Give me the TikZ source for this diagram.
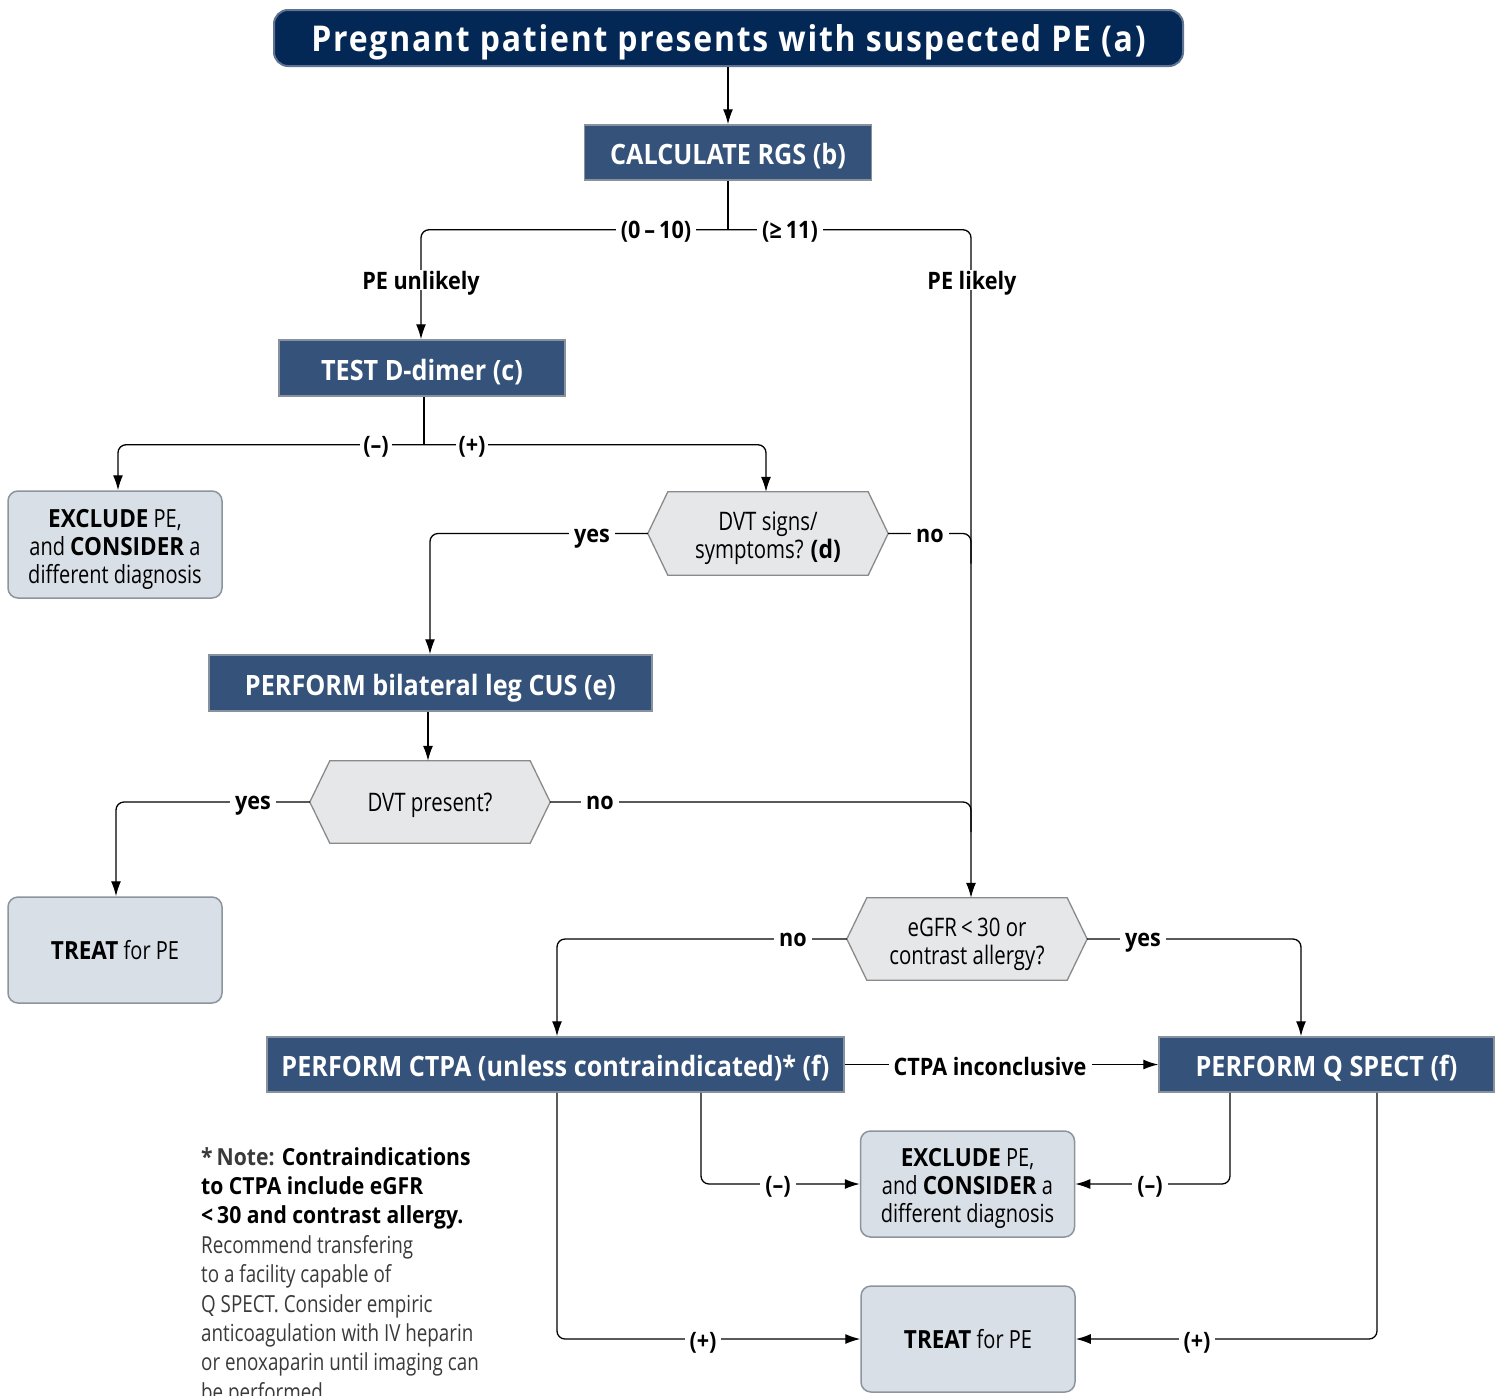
\documentclass[tikz,border=0pt]{standalone}
\usepackage{fontspec}
\setmainfont[FakeStretch=0.8, BoldFeatures={FakeStretch=0.9}]{Open Sans}
\usetikzlibrary{arrows.meta,backgrounds,calc}

\definecolor{navy}{RGB}{4,40,86}
\definecolor{navyedge}{RGB}{96,116,146}
\definecolor{stepblue}{RGB}{52,82,122}
\definecolor{stepedge}{RGB}{136,146,158}
\definecolor{endfill}{RGB}{217,223,231}
\definecolor{endedge}{RGB}{140,148,158}
\definecolor{hexfill}{RGB}{230,231,233}
\definecolor{hexedge}{RGB}{138,138,138}
\definecolor{notegray}{RGB}{58,58,58}

\newcommand\titlefont{\bfseries\addfontfeatures{LetterSpace=5}\fontsize{35.5}{40}\selectfont}
\newcommand\stepfont{\bfseries\fontsize{28}{30}\selectfont}
\newcommand\boxfont{\fontsize{25}{28}\selectfont}
\newcommand\hexfont{\fontsize{25.5}{27.5}\selectfont}
\newcommand\lblfont{\bfseries\fontsize{24}{27}\selectfont}
\newcommand\notefont{\fontsize{23.5}{29.4}\selectfont}
% taller first line, so that a centred multi-line text sits a little lower
\newcommand\firstline[1]{\rule{0pt}{#1}}

% hexagonal decision outline around a (rectangular) decision node
\newcommand\hexoutline[1]{%
  \draw[hexshape] (#1.west) -- ([xshift=20pt]#1.north west) -- ([xshift=-20pt]#1.north east)
    -- (#1.east) -- ([xshift=-20pt]#1.south east) -- ([xshift=20pt]#1.south west) -- cycle;}

\tikzset{
  titlebox/.style={draw=navyedge, line width=2pt, fill=navy, rounded corners=14pt,
    text=white, font=\titlefont, inner sep=0pt, minimum width=909pt, minimum height=56pt,
    text height=27.5pt, text depth=0pt},
  stepbox/.style={draw=stepedge, line width=1.5pt, fill=stepblue, text=white,
    font=\stepfont, inner sep=0pt, minimum height=55pt, text height=24pt, text depth=0pt},
  endbox/.style={draw=endedge, line width=1.5pt, fill=endfill, rounded corners=10pt,
    font=\boxfont, align=center, inner sep=0pt, minimum width=214pt, minimum height=106pt},
  hexbox/.style={font=\hexfont, align=center, inner sep=0pt,
    minimum width=240pt, minimum height=82pt},
  oneline/.style={text height=19.5pt, text depth=0pt},
  hexshape/.style={draw=hexedge, line width=1.3pt, fill=hexfill},
  conn/.style={line width=1.3pt, rounded corners=8pt},
  arr/.style={conn, -{Latex[length=15pt,width=10pt]}},
  lbl/.style={fill=white, font=\lblfont, inner xsep=5pt, inner ysep=1pt, text depth=0pt},
}

\begin{document}
\begin{tikzpicture}[x=1pt,y=-1pt]
\useasboundingbox (0,0) rectangle (1502,1395);

% ---- nodes ----
\node[titlebox] (title) at (728.5,38) {Pregnant patient presents with suspected PE (a)};
\node[stepbox, minimum width=287pt] (calc) at (728,152.5) {CALCULATE RGS (b)};
\node[stepbox, minimum width=286pt, minimum height=56pt] (ddimer) at (422,368) {TEST D-dimer (c)};
\node[endbox, minimum height=107pt] (excl1) at (115,544.5)
  {\firstline{27pt}\textbf{EXCLUDE} PE,\\ and \textbf{CONSIDER} a\\ different diagnosis};
\node[hexbox, minimum height=83pt] (dvt) at (768,533.5) {\firstline{28pt}DVT signs/\\ symptoms? \textbf{(d)}};
\node[stepbox, minimum width=443pt, minimum height=56pt] (cus) at (430.5,683) {PERFORM bilateral leg CUS (e)};
\node[hexbox, oneline] (dvtp) at (430,802) {DVT present?};
\node[endbox, oneline] (treat1) at (115,950) {\textbf{TREAT} for PE};
\node[hexbox] (egfr) at (967,939) {\firstline{29pt}eGFR\,<\,30 or\\ contrast allergy?};
\node[stepbox, minimum width=577pt] (ctpa) at (555.5,1064.5) {PERFORM CTPA (unless contraindicated)* (f)};
\node[stepbox, minimum width=335pt] (qspect) at (1326.5,1064.5) {PERFORM Q SPECT (f)};
\node[endbox] (excl2) at (967.5,1184)
  {\firstline{27pt}\textbf{EXCLUDE} PE,\\ and \textbf{CONSIDER} a\\ different diagnosis};
\node[endbox, oneline] (treat2) at (968,1339) {\textbf{TREAT} for PE};

\node[anchor=north west, align=left, font=\notefont, inner sep=0pt, text=notegray] (note) at (201,1147)
  {{\bfseries *\,Note: \color{black}Contraindications}\\
   {\bfseries\color{black}to CTPA include eGFR}\\
   {\bfseries\color{black}<\,30 and contrast allergy.}\\
   Recommend transfering\\
   to a facility capable of\\
   Q SPECT. Consider empiric\\
   anticoagulation with IV heparin\\
   or enoxaparin until imaging can\\
   be performed.};

\begin{scope}[on background layer]
  \fill[white] (0,0) rectangle (1502,1395);
  \hexoutline{dvt}
  \hexoutline{dvtp}
  \hexoutline{egfr}
\end{scope}

% ---- connectors ----
\coordinate (split) at ($(calc.south)+(0,49)$);
\coordinate (rail) at ([xshift=4pt]egfr.north);
\coordinate (dsplit) at ($(ddimer.south)+(2,48)$);

\draw[arr] (title.south -| calc.north) -- (calc.north);
\draw[conn] (calc.south) -- (split);
\draw[arr] (split) -| ([xshift=-1pt]ddimer.north);
\draw[arr] (split) -| (rail);

\draw[conn] (ddimer.south -| dsplit) -- (dsplit);
\draw[arr] (dsplit) -| ([xshift=3pt]excl1.north);
\draw[arr] (dsplit) -| ([xshift=-2pt]dvt.north);

\draw[arr] (dvt.west) -| ([xshift=-0.5pt]cus.north);
\draw[conn] (dvt.east) -- (rail |- dvt.east) -- ++(0,30);

\draw[arr] ([xshift=-2.5pt]cus.south) -- ([xshift=-2pt]dvtp.north);

\draw[arr] (dvtp.west) -| ([xshift=1pt]treat1.north);
\draw[conn] (dvtp.east) -- (rail |- dvtp.east) -- ++(0,30);

\draw[arr] (egfr.west) -| ([xshift=1.5pt]ctpa.north);
\draw[arr] (egfr.east) -| ([xshift=-25.5pt]qspect.north);

\draw[arr] (ctpa.east) -- (qspect.west);

\draw[arr] ([xshift=1.5pt]ctpa.south) |- (treat2.west);
\draw[arr] ([xshift=145.5pt]ctpa.south) |- (excl2.west);
\draw[arr] ([xshift=-96.5pt]qspect.south) |- (excl2.east);
\draw[arr] ([xshift=50.5pt]qspect.south) |- (treat2.east);

% ---- connector labels ----
\node[lbl] (l010) at (656,230) {(0\,–\,10)};
\node[lbl] (l11) at (790,230) {(≥\,11)};
\node[lbl] (lunl) at (421,280) {PE unlikely};
\node[lbl] (llik) at (972,280) {PE likely};
\node[lbl, inner xsep=3pt] (ldneg) at (376,445) {(–)};
\node[lbl, inner xsep=3pt] (ldpos) at (472,445) {(+)};
\node[lbl] (ldyes) at (592,536) {yes};
\node[lbl] (ldno) at (930,536) {no};
\node[lbl] (lpyes) at (253,803) {yes};
\node[lbl] (lpno) at (600,803) {no};
\node[lbl] (leno) at (793,940) {no};
\node[lbl] (leyes) at (1143,940) {yes};
\node[lbl] (linc) at (990,1066) {CTPA inconclusive};
\node[lbl] (lcneg) at (778,1185) {(–)};
\node[lbl] (lqneg) at (1150,1185) {(–)};
\node[lbl] (lcpos) at (703,1341) {(+)};
\node[lbl] (lqpos) at (1197,1341) {(+)};
\end{tikzpicture}
\end{document}
